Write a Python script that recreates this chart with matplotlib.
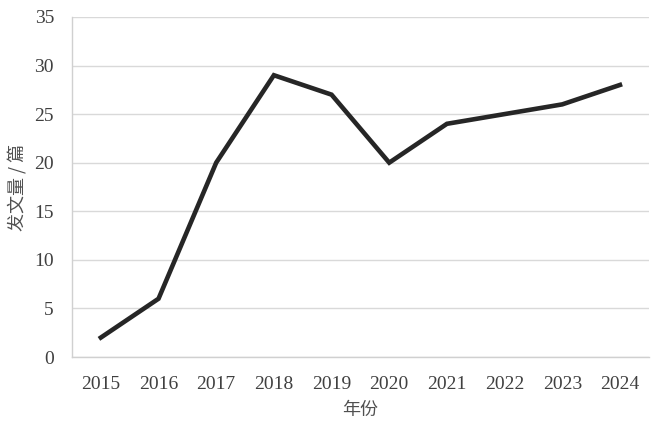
import matplotlib
matplotlib.use("Agg")
import matplotlib.pyplot as plt

years = ["2015", "2016", "2017", "2018", "2019", "2020", "2021", "2022", "2023", "2024"]
counts = [2, 6, 20, 29, 27, 20, 24, 25, 26, 28]
yticks = [0, 5, 10, 15, 20, 25, 30, 35]

plt.rcParams['font.family'] = ['Liberation Serif', 'Noto Sans CJK SC']

fig = plt.figure(figsize=(6.51, 4.23), dpi=100)
ax = fig.add_axes([0.1106, 0.156, 0.886, 0.804])
x = list(range(len(years)))
ax.plot(x, counts, color='#262626', linewidth=3.3, solid_joinstyle='miter')
ax.set_xlim(-0.5, len(years) - 0.5)
ax.set_ylim(0, 35)
ax.set_yticks(yticks)
ax.set_xticks(x)
ax.set_xticklabels(years)
ax.grid(axis='y', color='#d9d9d9', linewidth=1.0)
ax.set_axisbelow(True)
for s in ['top', 'right']:
    ax.spines[s].set_visible(False)
for s in ['left', 'bottom']:
    ax.spines[s].set_color('#d0d0d0')
    ax.spines[s].set_linewidth(1.0)
ax.tick_params(length=0, labelsize=14, colors='#404040')
ax.tick_params(axis='x', pad=14)
ax.tick_params(axis='y', pad=13)
ax.set_xlabel('年份', fontsize=13, color='#505050',
              family=['Noto Sans CJK SC', 'Liberation Serif'])
ax.set_ylabel('发文量 / 篇', fontsize=13, color='#505050',
              family=['Noto Sans CJK SC', 'Liberation Serif'])
ax.xaxis.set_label_coords(0.5, -0.155)
ax.yaxis.set_label_coords(-0.093, 0.5)
ax.xaxis.label.set_verticalalignment('center')
ax.yaxis.label.set_verticalalignment('center')
fig.savefig('out.png', dpi=100)
